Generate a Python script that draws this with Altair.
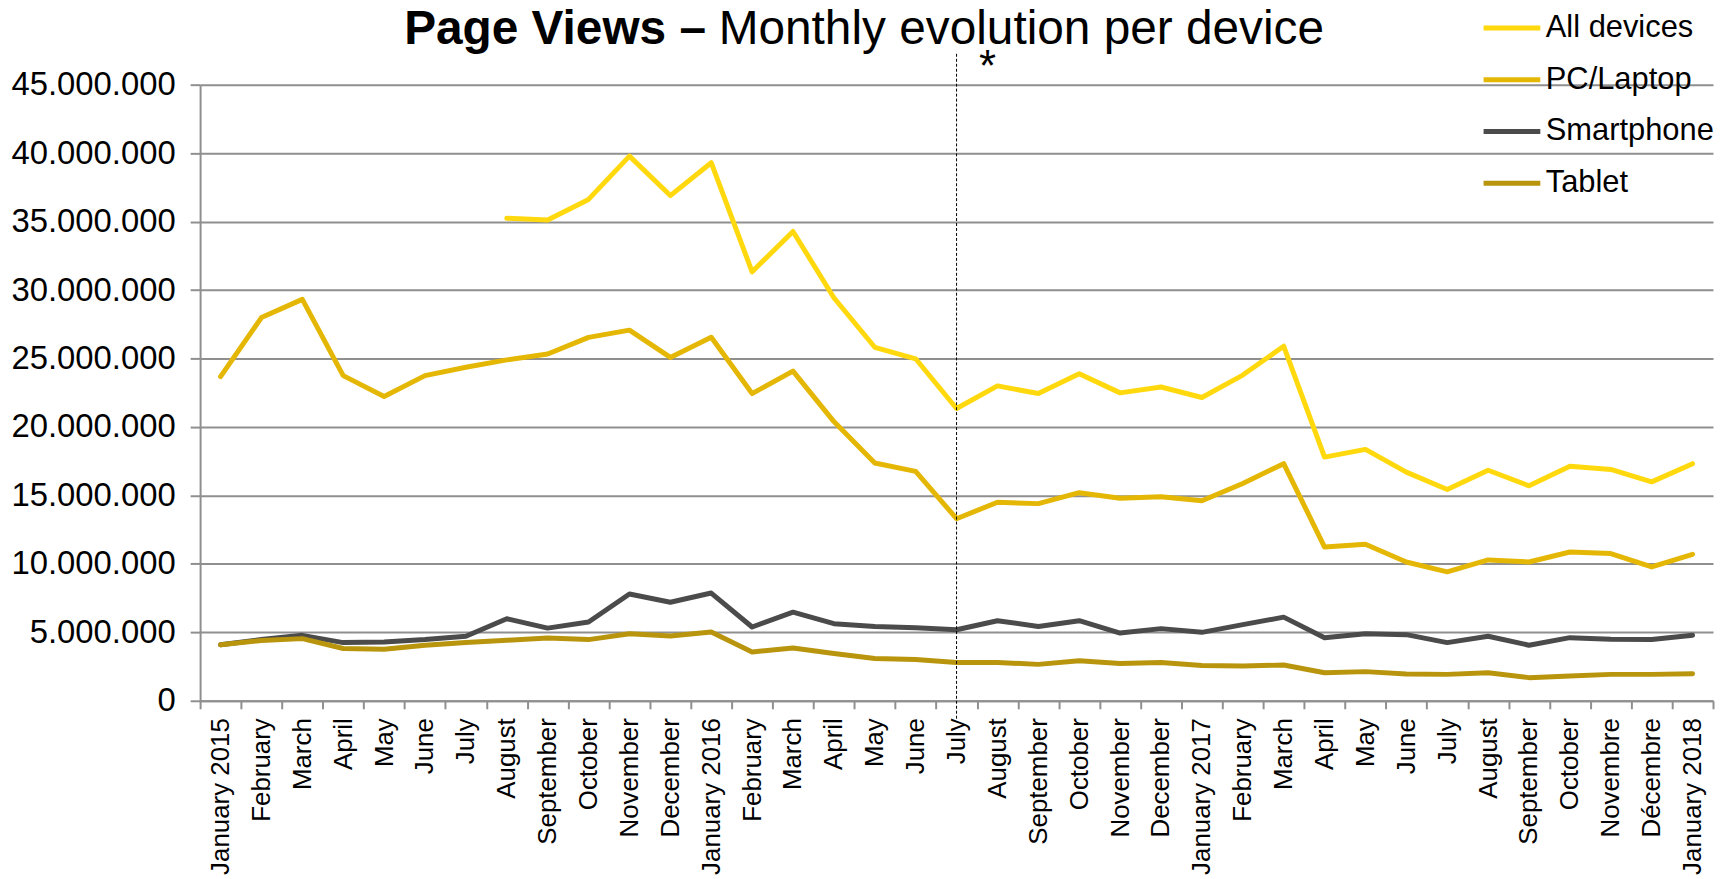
import json
import altair as alt
import pandas as pd

# ---------------- data (values in millions of page views) ----------------
month_labels = [
    "January 2015", "February", "March", "April", "May", "June", "July", "August",
    "September", "October", "November", "December",
    "January 2016", "February", "March", "April", "May", "June", "July", "August",
    "September", "October", "November", "December",
    "January 2017", "February", "March", "April", "May", "June", "July", "August",
    "September", "October", "Novembre", "Décembre", "January 2018",
]

series_names = ["All devices", "PC/Laptop", "Smartphone", "Tablet"]
series_colors = ["#FFD90D", "#E5B705", "#4B4B4B", "#B8950D"]

all_devices = [None, None, None, None, None, None, None,
               35.24, 35.12, 36.62, 39.78, 36.9, 39.3, 31.33, 34.28, 29.44, 25.82, 24.98,
               21.35, 23.0, 22.44, 23.89, 22.49, 22.92, 22.15, 23.79, 25.9, 17.8, 18.36,
               16.7, 15.43, 16.84, 15.7, 17.13, 16.9, 15.99, 17.32]
pc_laptop = [23.68, 27.99, 29.32, 23.75, 22.23, 23.75, 24.36, 24.9, 25.33, 26.54, 27.07, 25.08,
             26.55, 22.44, 24.08, 20.39, 17.37, 16.76, 13.3, 14.5, 14.4, 15.2, 14.8, 14.9,
             14.61, 15.87, 17.32, 11.23, 11.43, 10.14, 9.42, 10.29, 10.14, 10.87, 10.75, 9.78, 10.7]
smartphone = [4.1, 4.47, 4.78, 4.25, 4.3, 4.47, 4.71, 5.99, 5.31, 5.75, 7.8, 7.2,
              7.87, 5.39, 6.47, 5.63, 5.43, 5.34, 5.19, 5.85, 5.43, 5.85, 4.95, 5.27,
              5.0, 5.56, 6.11, 4.61, 4.9, 4.83, 4.25, 4.71, 4.06, 4.61, 4.49, 4.47, 4.78]
tablet = [4.1, 4.4, 4.54, 3.82, 3.77, 4.06, 4.25, 4.42, 4.59, 4.47, 4.9, 4.73,
          5.02, 3.57, 3.86, 3.45, 3.09, 3.02, 2.8, 2.8, 2.66, 2.92, 2.73, 2.8,
          2.58, 2.54, 2.61, 2.05, 2.13, 1.96, 1.93, 2.05, 1.69, 1.81, 1.93, 1.93, 1.98]

y_ticks = [0, 5000000, 10000000, 15000000, 20000000, 25000000, 30000000, 35000000, 40000000, 45000000]
marker_month = 18  # July 2016, dotted separator
title_bold = "Page Views –"
title_rest = "Monthly evolution per device"
marker_text = "*"

# ---------------- table ----------------
rows = []
for name, vals in zip(series_names, [all_devices, pc_laptop, smartphone, tablet]):
    for i, v in enumerate(vals):
        if v is not None:
            rows.append({"i": i, "series": name, "value": v * 1_000_000})
df = pd.DataFrame(rows)

FONT = "Liberation Sans"
W, H = 1520, 619

x_enc = alt.X(
    "i:O",
    scale=alt.Scale(type="band", paddingInner=0, paddingOuter=0, domain=list(range(len(month_labels)))),
    axis=alt.Axis(
        title=None,
        labelExpr=json.dumps(month_labels, ensure_ascii=False) + "[datum.value]",
        labelAngle=270,
        labelAlign="right",
        labelBaseline="middle",
        labelFontSize=26,
        labelPadding=9,
        labelOverlap=False,
        tickBand="extent",
        tickSize=8,
        tickWidth=2,
        tickColor="#8F8F8F",
        domainColor="#8F8F8F",
        domainWidth=2,
        grid=False,
    ),
)

lines = alt.Chart(df).mark_line(strokeWidth=5, strokeJoin="round", strokeCap="round").encode(
    x=x_enc,
    y=alt.Y(
        "value:Q",
        scale=alt.Scale(domain=[0, 45000000], nice=False),
        axis=alt.Axis(
            title=None,
            values=y_ticks,
            labelExpr="replace(format(datum.value, ','), /,/g, '.')",
            labelFontSize=33,
            labelPadding=15,
            labelOverlap=False,
            tickSize=10,
            tickWidth=2,
            tickColor="#8F8F8F",
            domainColor="#8F8F8F",
            domainWidth=2,
            grid=True,
            gridColor="#8F8F8F",
            gridWidth=2,
        ),
    ),
    color=alt.Color(
        "series:N",
        scale=alt.Scale(domain=series_names, range=series_colors),
        legend=alt.Legend(
            title=None,
            orient="none",
            legendX=1287,
            legendY=-88,
            symbolType="stroke",
            symbolSize=3249,
            symbolStrokeWidth=5,
            labelFontSize=31,
            labelOffset=3,
            labelLimit=400,
            rowPadding=6,
            padding=0,
        ),
    ),
)

marker_df = pd.DataFrame({"i": [marker_month], "t": [marker_text]})
rule = alt.Chart(marker_df).mark_rule(color="black", strokeWidth=1, strokeDash=[3, 2]).encode(
    x=alt.X("i:O"),
    y=alt.value(-31),
    y2=alt.value(H + 18),
)
star = alt.Chart(marker_df).mark_text(
    font=FONT, fontSize=44, color="black", align="center", baseline="alphabetic", dx=31
).encode(x=alt.X("i:O"), y=alt.value(-4), text="t:N")

t1 = alt.Chart(pd.DataFrame({"t": [title_bold]})).mark_text(
    font=FONT, fontSize=48, fontWeight="bold", color="black", align="left", baseline="alphabetic"
).encode(x=alt.value(205), y=alt.value(-41), text="t:N")
t2 = alt.Chart(pd.DataFrame({"t": [title_rest]})).mark_text(
    font=FONT, fontSize=48, color="black", align="left", baseline="alphabetic"
).encode(x=alt.value(521), y=alt.value(-41), text="t:N")

chart = (
    alt.layer(lines, rule, star, t1, t2)
    .properties(
        width=W,
        height=H,
        padding={"left": 193, "top": 75, "right": 2, "bottom": 176},
        autosize=alt.AutoSizeParams(type="none"),
    )
    .configure_view(strokeWidth=0)
    .configure_axis(labelFont=FONT, labelColor="black")
    .configure_legend(labelFont=FONT, labelColor="black")
)

chart.save("out.html", embed_options={"renderer": "svg", "actions": False})
